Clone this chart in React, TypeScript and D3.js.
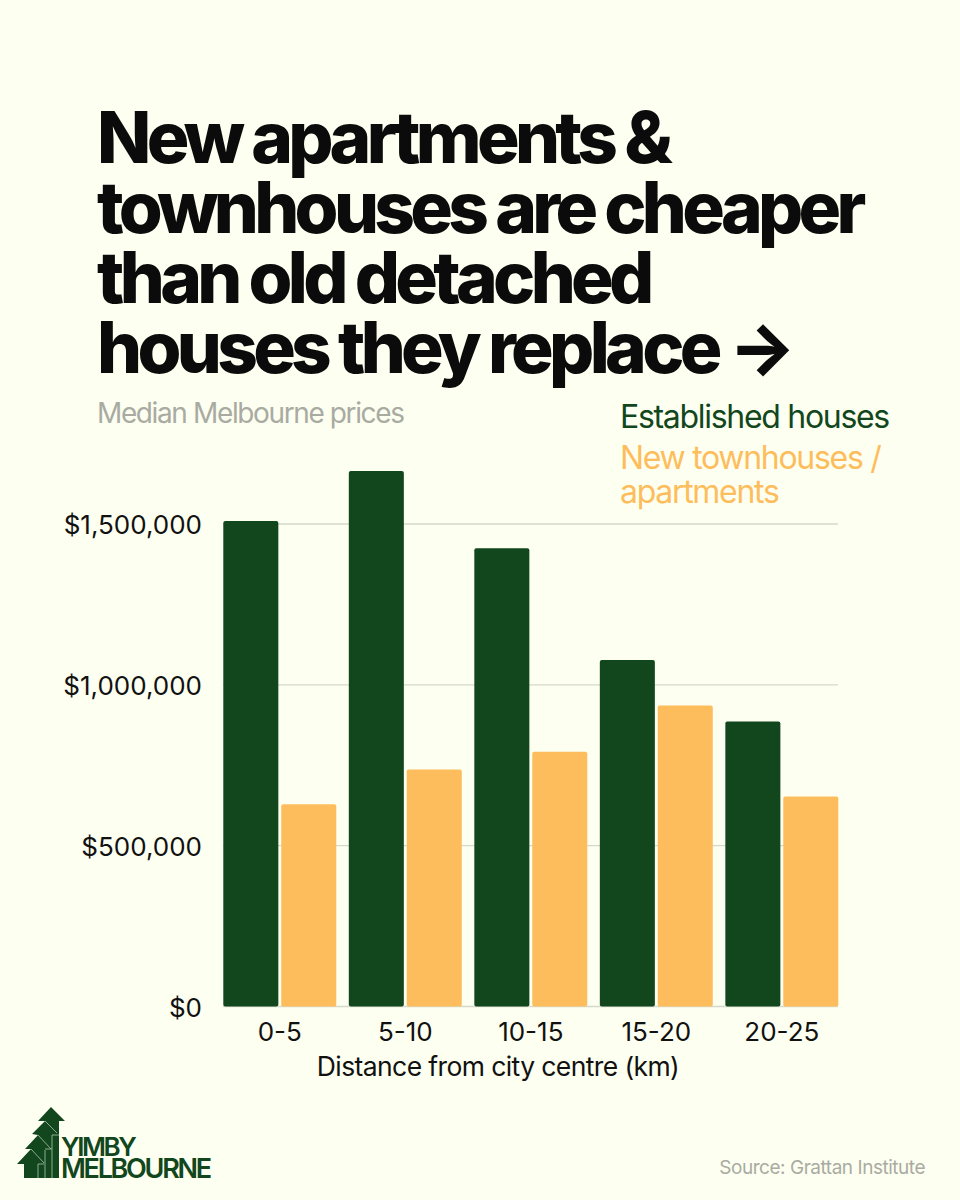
import * as d3 from "d3";

const categories = ["0-5", "5-10", "10-15", "15-20", "20-25"];
const established = [1509000, 1665000, 1425000, 1077000, 886000];
const newHomes = [629000, 737000, 792000, 936000, 653000];
const seriesNames = ["established", "newHomes"];
const yTicks = [0, 500000, 1000000, 1500000];
const titleLines = [
  "New apartments &",
  "townhouses are cheaper",
  "than old detached",
  "houses they replace →",
];

const width = 960;
const height = 1200;
const bg = "#fdfff0";
const green = "#12471e";
const orange = "#fdbd5c";
const font = "Inter, sans-serif";

const x0 = d3.scaleBand().domain(categories).range([223.3, 838.3]).paddingInner(0.1);
const x1 = d3.scaleBand().domain(seriesNames).range([0, x0.bandwidth()]).paddingInner(0.05);
const y = d3.scaleLinear().domain([0, 1500000]).range([1006.5, 524]);
const money = d3.format("$,");

// logo: tree of stacked arrows
const Logo = () => (
  <g>
    <path
      fill={green}
      d="M51 1107 L65 1121 L59 1121 L59 1178 L24 1178 L24 1164 L17 1164 L31 1149 L25 1149 L38 1135 L32 1134 L45 1121 L38 1121 Z"
    />
    <g fill="none" stroke="#9db59f" strokeWidth={0.9}>
      <path d="M45 1121 L57 1133" />
      <path d="M38 1135 L51 1149" />
      <path d="M31 1149 L44 1163" />
      <path d="M38 1164 L38 1178" />
      <path d="M45 1150 L45 1178" />
      <path d="M52 1135 L52 1178" />
      <path d="M44 1164 L38 1164" />
      <path d="M52 1149 L45 1149" />
      <path d="M59 1135 L52 1135" />
    </g>
  </g>
);

export default function App() {
  return (
    <svg
      width={width}
      height={height}
      viewBox={`0 0 ${width} ${height}`}
      style={{ position: "absolute", left: 0, top: 0, display: "block", fontFamily: font }}
    >
      <rect width={width} height={height} fill={bg} />

      {titleLines.map((line, i) => (
        <text
          key={line}
          x={97}
          y={162.5 + i * 70.2}
          fontSize={71}
          fontWeight={800}
          letterSpacing={-4.68}
          fill="#0b0b0b"
        >
          {line}
        </text>
      ))}

      <text x={97} y={423} fontSize={28} letterSpacing={-1.38} fill="#a9aba3">
        Median Melbourne prices
      </text>

      <text x={620} y={427.7} fontSize={32} letterSpacing={-1.3} fill={green}>
        Established houses
      </text>
      <text x={620} y={468.7} fontSize={32} letterSpacing={-1.3} fill={orange}>
        New townhouses /
      </text>
      <text x={620} y={502.7} fontSize={32} letterSpacing={-1.3} fill={orange}>
        apartments
      </text>

      {yTicks.map((t) => (
        <g key={t}>
          <line x1={223} x2={838} y1={y(t)} y2={y(t)} stroke="#d5d8cb" strokeWidth={1.3} />
          <text x={202} y={y(t) + 10} textAnchor="end" fontSize={26} fill="#111">
            {money(t)}
          </text>
        </g>
      ))}

      {categories.map((c, i) => (
        <g key={c} transform={`translate(${x0(c)},0)`}>
          <rect
            x={x1("established")}
            y={y(established[i])}
            width={x1.bandwidth()}
            height={y(0) - y(established[i])}
            rx={2}
            fill={green}
          />
          <rect
            x={x1("newHomes")}
            y={y(newHomes[i])}
            width={x1.bandwidth()}
            height={y(0) - y(newHomes[i])}
            rx={2}
            fill={orange}
          />
          <text
            x={x0.bandwidth() / 2}
            y={1041}
            textAnchor="middle"
            fontSize={26}
            fill="#111"
          >
            {c}
          </text>
        </g>
      ))}

      <text x={498} y={1076} textAnchor="middle" fontSize={26.5} letterSpacing={-0.6} fill="#111">
        Distance from city centre (km)
      </text>

      <Logo />
      <text x={61} y={1156} fontSize={26} fontWeight={600} letterSpacing={-2.4} fill={green}>
        YIMBY
      </text>
      <text x={61} y={1178} fontSize={27} fontWeight={600} letterSpacing={-2.3} fill={green}>
        MELBOURNE
      </text>

      <text x={925} y={1174} textAnchor="end" fontSize={19} letterSpacing={-0.47} fill="#a9aba3">
        Source: Grattan Institute
      </text>
    </svg>
  );
}
